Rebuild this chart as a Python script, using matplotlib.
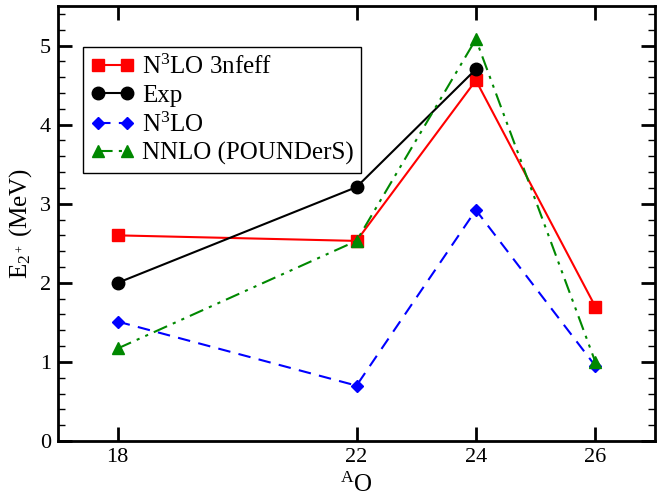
import numpy as np
import matplotlib
matplotlib.use("Agg")
import matplotlib.pyplot as plt

plt.rcParams["font.family"] = ["Liberation Serif", "DejaVu Serif"]
plt.rcParams["mathtext.fontset"] = "custom"
plt.rcParams["mathtext.rm"] = "Liberation Serif"
plt.rcParams["mathtext.it"] = "Liberation Serif:italic"

# mass numbers of the oxygen isotopes
mass_number = [18, 22, 24, 26]

# E(2+) in MeV
n3lo_3nfeff = [2.60, 2.53, 4.56, 1.70]
exp_mass    = [18, 22, 24]
exp_vals    = [2.00, 3.21, 4.70]
n3lo        = [1.51, 0.70, 2.92, 0.95]
nnlo_pound  = [1.17, 2.53, 5.08, 1.00]

labels = ["N$^3$LO 3nfeff", "Exp", "N$^3$LO", "NNLO (POUNDerS)"]

fig = plt.figure(figsize=(6.57, 4.96), dpi=100)
ax = fig.add_axes([58/657, 1 - 441/496, 597/657, 435/496])

ax.plot(mass_number, n3lo_3nfeff, "-", color="#ff0000", lw=1.5,
        marker="s", ms=8, label=labels[0])
ax.plot(exp_mass, exp_vals, "-", color="black", lw=1.5,
        marker="o", ms=9, label=labels[1])
ax.plot(mass_number, n3lo, "--", color="#0000ff", lw=1.5, dashes=(6, 4),
        marker="D", ms=6, label=labels[2])
ax.plot(mass_number, nnlo_pound, color="#008800", lw=1.5,
        dashes=(7, 3, 1.5, 3, 1.5, 3),
        marker="^", ms=9, label=labels[3])

ax.set_xlim(17, 27)
ax.set_ylim(0, 5.5)
ax.set_xticks(mass_number)
ax.set_yticks(np.arange(0, 6, 1))
ax.set_yticks(np.arange(0, 5.5, 0.2), minor=True)

for s in ax.spines.values():
    s.set_linewidth(2)
ax.tick_params(which="both", direction="in", top=True, right=True,
               labelsize=16, pad=5)
ax.tick_params(which="major", length=10, width=2)
ax.tick_params(which="minor", length=5, width=1)
ax.tick_params(axis="x", which="minor", top=False, bottom=False)

ax.set_xlabel("$^{\\mathrm{A}}$O", fontsize=18, labelpad=4)
ax.set_ylabel("E$_{2^+}$ (MeV)", fontsize=18, labelpad=4)

leg = ax.legend(loc="upper left", bbox_to_anchor=(25/597, 1 - 41/435),
                numpoints=2, fontsize=18, handlelength=1.75,
                handletextpad=0.3, labelspacing=0.22, borderpad=0.3,
                borderaxespad=0, fancybox=False, framealpha=1)
leg.get_frame().set_edgecolor("black")
leg.get_frame().set_linewidth(1)

fig.savefig("out.png", dpi=100)
